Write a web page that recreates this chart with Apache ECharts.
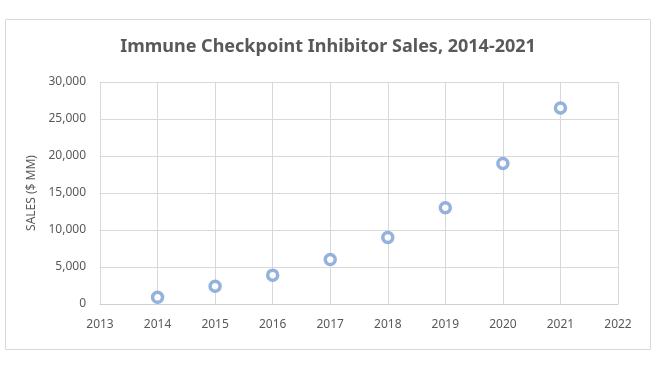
<!DOCTYPE html>
<html>
<head>
<meta charset="utf-8">
<script src="https://cdn.jsdelivr.net/npm/echarts@6/dist/echarts.min.js"></script>
<style>
html,body{margin:0;padding:0;background:#fff;}
#c{width:667px;height:370px;}
</style>
</head>
<body>
<div id="c"></div>
<script>
const years = [2014, 2015, 2016, 2017, 2018, 2019, 2020, 2021];
const sales = [900, 2400, 3900, 6000, 9000, 13000, 19000, 26500];
const titleText = 'Immune Checkpoint Inhibitor Sales, 2014-2021';
const yAxisName = 'SALES ($ MM)';

const chart = echarts.init(document.getElementById('c'), null, {renderer: 'canvas'});
chart.setOption({
  backgroundColor: '#ffffff',
  animation: false,
  title: {
    text: titleText,
    left: 323, top: 33, textAlign: 'center',
    textStyle: {fontFamily: 'Noto Sans', fontWeight: 'bold', fontSize: 18, color: '#595959'}
  },
  graphic: [{
    type: 'rect', left: 3, top: 17, silent: true,
    shape: {width: 645, height: 330},
    style: {fill: 'none', stroke: '#d9d9d9', lineWidth: 1}
  }],
  grid: {left: 100, right: 49, top: 82, bottom: 66, containLabel: false},
  xAxis: {
    type: 'value', min: 2013, max: 2022, interval: 1,
    axisLine: {show: true, lineStyle: {color: '#d0d0d0'}},
    axisTick: {show: false},
    splitLine: {show: true, lineStyle: {color: '#d9d9d9'}},
    axisLabel: {color: '#595959', fontFamily: 'Noto Sans', fontSize: 12, margin: 15,
      formatter: v => String(v)}
  },
  yAxis: {
    type: 'value', min: 0, max: 30000, interval: 5000,
    name: yAxisName, nameLocation: 'middle', nameGap: 60, nameRotate: 90,
    nameTextStyle: {color: '#595959', fontFamily: 'Noto Sans', fontSize: 12},
    axisLine: {show: true, lineStyle: {color: '#d9d9d9'}},
    axisTick: {show: false},
    splitLine: {show: true, lineStyle: {color: '#d9d9d9'}},
    axisLabel: {color: '#595959', fontFamily: 'Noto Sans', fontSize: 12, margin: 14,
      formatter: v => v.toLocaleString('en-US')}
  },
  series: [{
    type: 'scatter',
    data: years.map((y, i) => [y, sales[i]]),
    symbol: 'circle', symbolSize: 10,
    itemStyle: {color: '#ffffff', borderColor: '#7B9FD4', borderWidth: 3.5}
  }]
});
</script>
</body>
</html>
